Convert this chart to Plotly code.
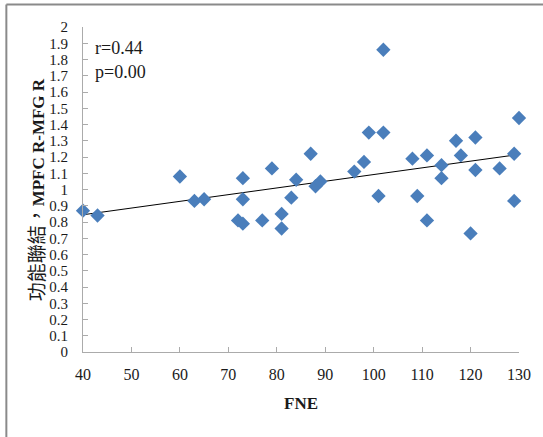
import numpy as np
import plotly.graph_objects as go

# FNE scores and functional connectivity (MPFC R - MFG R)
fne = [40, 43, 60, 63, 65, 72, 73, 73, 73, 77, 79, 81, 81, 83, 84, 87, 88, 89,
       96, 98, 99, 101, 102, 102, 108, 109, 111, 111, 114, 114, 117, 118, 120,
       121, 121, 126, 129, 129, 130]
conn = [0.87, 0.84, 1.08, 0.93, 0.94, 0.81, 0.79, 1.07, 0.94, 0.81, 1.13, 0.85,
        0.76, 0.95, 1.06, 1.22, 1.02, 1.05, 1.11, 1.17, 1.35, 0.96, 1.35, 1.86,
        1.19, 0.96, 1.21, 0.81, 1.07, 1.15, 1.30, 1.21, 0.73, 1.32, 1.12, 1.13,
        1.22, 0.93, 1.44]

stat_labels = ["r=0.44", "p=0.00"]
x_title = "FNE"
y_title_cjk = "功能聯結，"
y_title_latin = "MPFC R-MFG R"

# Least-squares linear trend over the data range
slope, intercept = np.polyfit(fne, conn, 1)
trend_x = [min(fne), max(fne)]
trend_y = [intercept + slope * v for v in trend_x]

serif = "Liberation Serif, Times New Roman, serif"
axis_grey = "#ababab"

fig = go.Figure()
fig.add_trace(go.Scatter(
    x=trend_x, y=trend_y, mode="lines",
    line=dict(color="black", width=1),
    showlegend=False, hoverinfo="skip",
))
fig.add_trace(go.Scatter(
    x=fne, y=conn, mode="markers", cliponaxis=False,
    marker=dict(symbol="diamond", size=11, color="#4a7ebb", line=dict(width=0)),
    showlegend=False, hoverinfo="x+y",
))

fig.update_layout(
    width=543, height=437,
    margin=dict(l=83, r=22, t=27, b=85),
    paper_bgcolor="white", plot_bgcolor="white",
    font=dict(family=serif, size=16, color="#1a1a1a"),
    xaxis=dict(
        range=[40, 130], dtick=10, tick0=40,
        showline=True, linecolor=axis_grey, linewidth=1,
        ticks="inside", ticklen=5, tickcolor=axis_grey,
        showgrid=False, zeroline=False, ticklabelstandoff=8,
        tickfont=dict(size=16),
    ),
    yaxis=dict(
        range=[0, 2], dtick=0.1, tick0=0,
        showline=True, linecolor=axis_grey, linewidth=1,
        ticks="inside", ticklen=5, tickcolor=axis_grey,
        showgrid=False, zeroline=False, ticklabelstandoff=11,
        tickfont=dict(size=15),
    ),
)

# Outer chart frame (top and left edges)
frame = "#8a8a8a"
fig.add_shape(type="line", xref="paper", yref="paper",
              x0=-0.1758, x1=1.06, y0=1.0692, y1=1.0692,
              line=dict(color=frame, width=2))
fig.add_shape(type="line", xref="paper", yref="paper",
              x0=-0.1758, x1=-0.1758, y0=1.0692, y1=-0.3,
              line=dict(color=frame, width=2))

# Statistics text
for label, yp in zip(stat_labels, [0.935, 0.862]):
    fig.add_annotation(text=label, xref="paper", yref="paper",
                       x=0.0228, y=yp, xanchor="left", yanchor="middle",
                       showarrow=False, font=dict(family=serif, size=18, color="#1a1a1a"))

# Axis titles
fig.add_annotation(text="<b>" + x_title + "</b>", xref="paper", yref="paper",
                   x=0.5, y=-0.157, xanchor="center", yanchor="middle",
                   showarrow=False, font=dict(family=serif, size=17, color="#1a1a1a"))
fig.add_annotation(
    text=('<span style="font-family:Noto Sans CJK TC;font-size:19px">' + y_title_cjk +
          '</span><b>' + y_title_latin + '</b>'),
    xref="paper", yref="paper", x=-0.1096, y=0.498,
    xanchor="center", yanchor="middle", textangle=-90,
    showarrow=False, font=dict(family=serif, size=17, color="#1a1a1a"))

fig.write_html("out.html")
